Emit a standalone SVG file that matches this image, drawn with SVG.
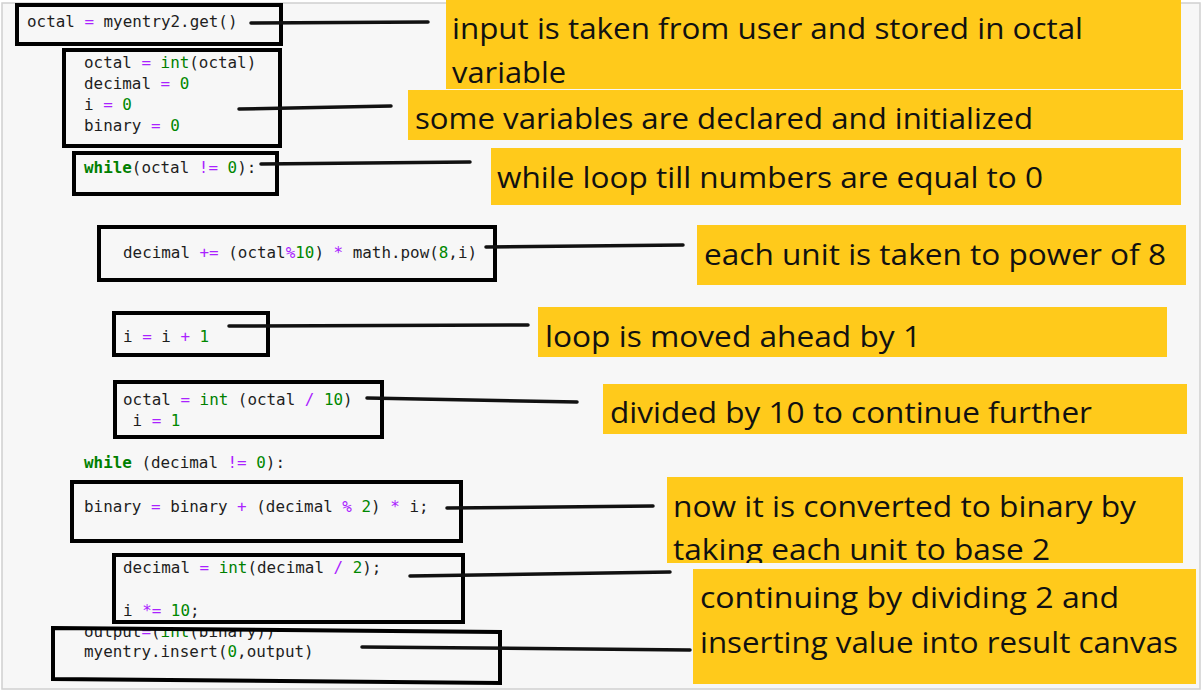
<svg xmlns="http://www.w3.org/2000/svg" width="1204" height="696" viewBox="0 0 1204 696">
<style>
.code{font-family:"DejaVu Sans Mono","Liberation Mono",monospace;font-size:15.9px;fill:#1e1e1e}
.op{fill:#aa22ff}
.num{fill:#008800}
.bi{fill:#008000}
.kw{fill:#008000;font-weight:bold}
.box{fill:none;stroke:#000;stroke-width:4}
.lbl{fill:#ffca1b}
.lt{font-family:"Open Sans","Noto Sans","Liberation Sans",sans-serif;font-size:29.5px;fill:#111}
.con{stroke:#111;stroke-width:3.5;stroke-linecap:round;fill:none}
</style>
<defs>
<clipPath id="clipOut"><rect x="0" y="629" width="600" height="30"/></clipPath>
<clipPath id="clip7"><rect x="667" y="477" width="516" height="86"/></clipPath>
</defs>
<rect x="2" y="3" width="1198" height="686" fill="#f7f7f7" stroke="#d0d0d0" stroke-width="1.5"/>

<g id="code1">
<text class="code" x="27" y="27" xml:space="preserve">octal <tspan class="op">=</tspan> myentry2.get()</text>
<rect class="box" x="17" y="5" width="264" height="39"/>
</g>
<g id="code2">
<text class="code" x="84" y="68" xml:space="preserve">octal <tspan class="op">=</tspan> <tspan class="bi">int</tspan>(octal)</text>
<text class="code" x="84" y="89" xml:space="preserve">decimal <tspan class="op">=</tspan> <tspan class="num">0</tspan></text>
<text class="code" x="84" y="110" xml:space="preserve">i <tspan class="op">=</tspan> <tspan class="num">0</tspan></text>
<text class="code" x="84" y="131" xml:space="preserve">binary <tspan class="op">=</tspan> <tspan class="num">0</tspan></text>
<rect class="box" x="64" y="50" width="216" height="96"/>
</g>
<g id="code3">
<text class="code" x="84" y="173" xml:space="preserve"><tspan class="kw">while</tspan>(octal <tspan class="op">!=</tspan> <tspan class="num">0</tspan>):</text>
<rect class="box" x="74" y="153" width="203" height="41"/>
</g>
<g id="code4">
<text class="code" x="123" y="258" xml:space="preserve">decimal <tspan class="op">+=</tspan> (octal<tspan class="op">%</tspan><tspan class="num">10</tspan>) <tspan class="op">*</tspan> math.pow(<tspan class="num">8</tspan>,i)</text>
<rect class="box" x="99" y="227" width="396" height="53"/>
</g>
<g id="code5">
<text class="code" x="123" y="342" xml:space="preserve">i <tspan class="op">=</tspan> i <tspan class="op">+</tspan> <tspan class="num">1</tspan></text>
<rect class="box" x="114" y="313" width="154" height="42"/>
</g>
<g id="code6">
<text class="code" x="123" y="405" xml:space="preserve">octal <tspan class="op">=</tspan> <tspan class="bi">int</tspan> (octal <tspan class="op">/</tspan> <tspan class="num">10</tspan>)</text>
<text class="code" x="123" y="426" xml:space="preserve"> i <tspan class="op">=</tspan> <tspan class="num">1</tspan></text>
<rect class="box" x="115" y="382" width="267" height="55"/>
</g>
<g id="code7">
<text class="code" x="84" y="468" xml:space="preserve"><tspan class="kw">while</tspan> (decimal <tspan class="op">!=</tspan> <tspan class="num">0</tspan>):</text>
<text class="code" x="84" y="512" xml:space="preserve">binary <tspan class="op">=</tspan> binary <tspan class="op">+</tspan> (decimal <tspan class="op">%</tspan> <tspan class="num">2</tspan>) <tspan class="op">*</tspan> i;</text>
<rect class="box" x="72" y="482" width="389" height="59"/>
</g>
<g id="code8">
<text class="code" x="123" y="573" xml:space="preserve">decimal <tspan class="op">=</tspan> <tspan class="bi">int</tspan>(decimal <tspan class="op">/</tspan> <tspan class="num">2</tspan>);</text>
<text class="code" x="123" y="616" xml:space="preserve">i <tspan class="op">*=</tspan> <tspan class="num">10</tspan>;</text>
<rect class="box" x="114" y="555" width="349" height="67"/>
</g>
<g id="code9">
<text class="code" x="84" y="637" clip-path="url(#clipOut)" xml:space="preserve">output<tspan class="op">=</tspan>(<tspan class="bi">int</tspan>(binary))</text>
<text class="code" x="84" y="657" xml:space="preserve">myentry.insert(<tspan class="num">0</tspan>,output)</text>
<path class="box" d="M53 628 L500 632 L500 683 L53 679 Z"/>
</g>

<g id="label1">
<rect class="lbl" x="446" y="0" width="735" height="89"/>
<text class="lt" x="452" y="39" textLength="631" lengthAdjust="spacingAndGlyphs">input is taken from user and stored in octal</text>
<text class="lt" x="452" y="83" textLength="114" lengthAdjust="spacingAndGlyphs">variable</text>
</g>
<g id="label2">
<rect class="lbl" x="408" y="90" width="775" height="50"/>
<text class="lt" x="415" y="129" textLength="618" lengthAdjust="spacingAndGlyphs">some variables are declared and initialized</text>
</g>
<g id="label3">
<rect class="lbl" x="491" y="148" width="690" height="57"/>
<text class="lt" x="497" y="188" textLength="546" lengthAdjust="spacingAndGlyphs">while loop till numbers are equal to 0</text>
</g>
<g id="label4">
<rect class="lbl" x="697" y="225" width="489" height="60"/>
<text class="lt" x="704" y="265" textLength="462" lengthAdjust="spacingAndGlyphs">each unit is taken to power of 8</text>
</g>
<g id="label5">
<rect class="lbl" x="538" y="307" width="629" height="50"/>
<text class="lt" x="545" y="347" textLength="376" lengthAdjust="spacingAndGlyphs">loop is moved ahead by 1</text>
</g>
<g id="label6">
<rect class="lbl" x="603" y="384" width="584" height="50"/>
<text class="lt" x="610" y="423" textLength="482" lengthAdjust="spacingAndGlyphs">divided by 10 to continue further</text>
</g>
<g id="label7">
<rect class="lbl" x="667" y="477" width="516" height="86"/>
<text class="lt" x="673" y="517" textLength="463" lengthAdjust="spacingAndGlyphs">now it is converted to binary by</text>
<text class="lt" x="673" y="560" textLength="377" lengthAdjust="spacingAndGlyphs" clip-path="url(#clip7)">taking each unit to base 2</text>
</g>
<g id="label8">
<rect class="lbl" x="693" y="569" width="503" height="115"/>
<text class="lt" x="700" y="608" textLength="419" lengthAdjust="spacingAndGlyphs">continuing by dividing 2 and</text>
<text class="lt" x="700" y="653" textLength="478" lengthAdjust="spacingAndGlyphs">inserting value into result canvas</text>
</g>

<g id="connectors">
<path class="con" d="M251 23 L428 22"/>
<path class="con" d="M239 109 L391 106"/>
<path class="con" d="M261 164 L470 162"/>
<path class="con" d="M486 247 L683 245"/>
<path class="con" d="M229 326 L528 325"/>
<path class="con" d="M367 398 L577 402"/>
<path class="con" d="M447 508 L653 506"/>
<path class="con" d="M410 576 L670 572"/>
<path class="con" d="M362 647 L690 650"/>
</g>
</svg>
